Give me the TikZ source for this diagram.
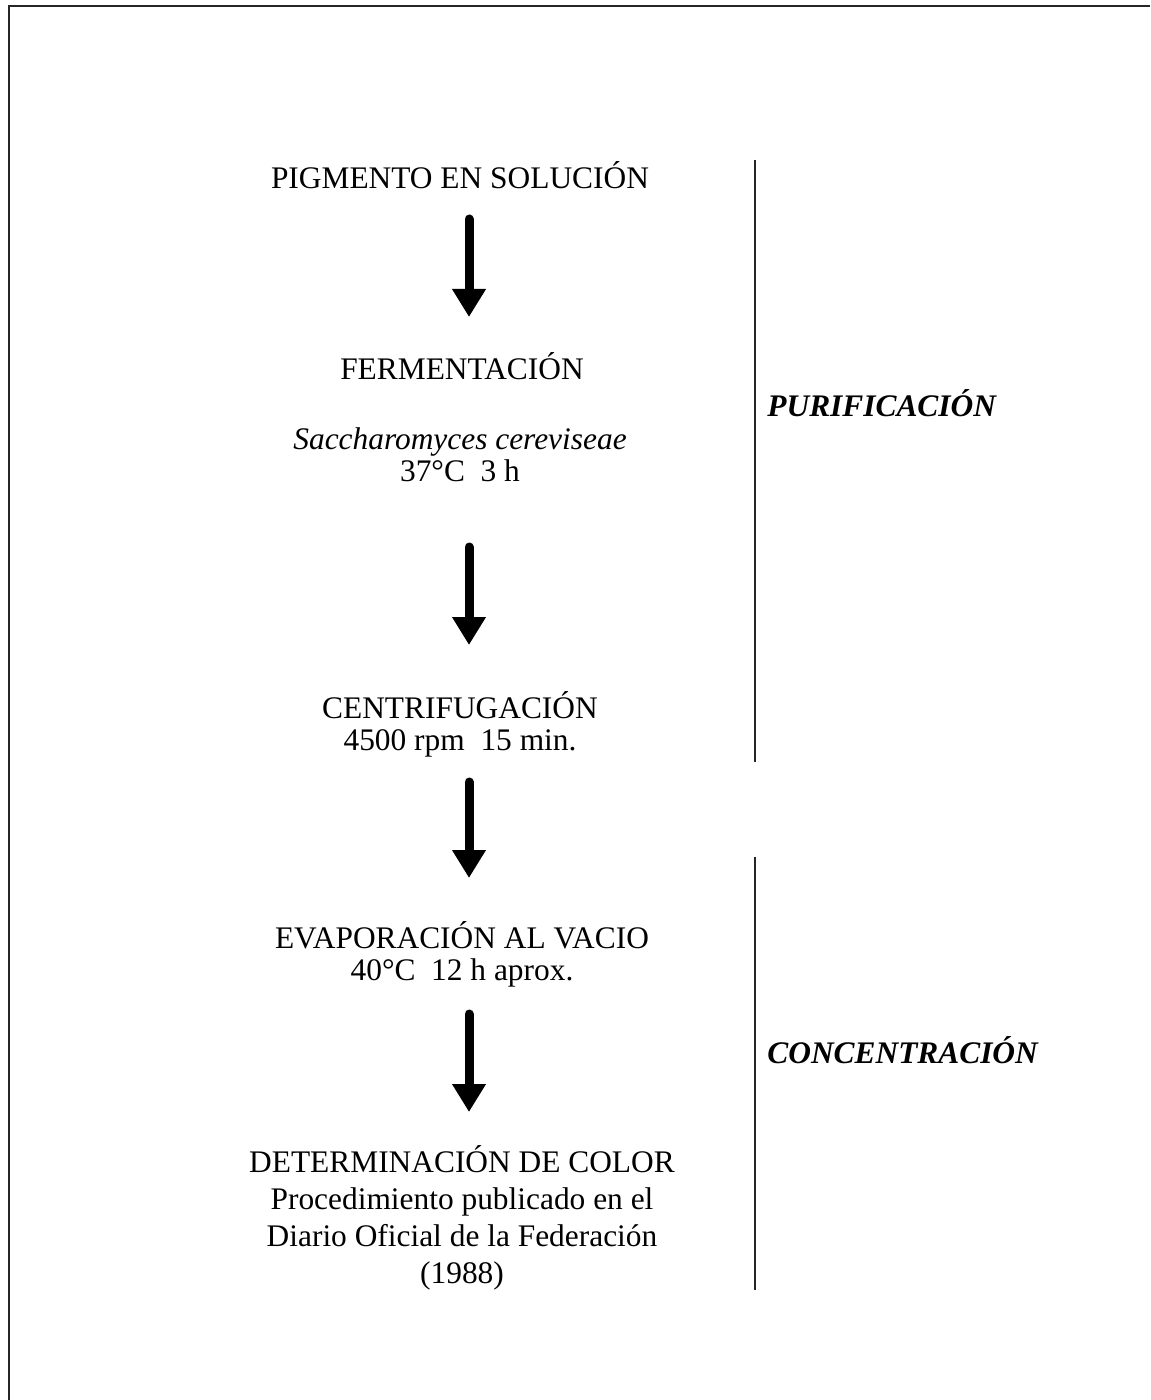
\documentclass[tikz,border=0pt]{standalone}
\usepackage{fontspec}
\setmainfont{Liberation Serif}
\usetikzlibrary{arrows.meta}
\begin{document}
\begin{tikzpicture}[x=0.5pt,y=-0.5pt,
  txt/.style={inner sep=0pt, align=center, font=\fontsize{15.7}{16}\selectfont},
  txtwide/.style={inner sep=0pt, align=center, font=\fontsize{15.7}{18.5}\selectfont},
  lbl/.style={inner sep=0pt, anchor=west, font=\fontsize{15.7}{16}\selectfont\bfseries\itshape},
  flow/.style={line width=4.5pt, line cap=round, -{Triangle[length=14pt,width=16pt]}},
  frame/.style={line width=1.3pt, draw=black!85},
  bar/.style={line width=1pt, draw=black!85}]
\useasboundingbox[fill=white] (0,0) rectangle (1150,1400);
% frame (top and left sides visible)
\draw[frame] (9,1400) -- (9,6) -- (1150,6);
% texts
\node[txt] (n1) at (460,175) {PIGMENTO EN SOLUCIÓN};
\node[txt] (n2) at (462,366) {FERMENTACIÓN};
\node[txt] (n2b) at (460,455) {\textit{Saccharomyces cereviseae}\\37°C\ \ 3 h};
\node[txt] (n3) at (460,724) {CENTRIFUGACIÓN\\4500 rpm\ \ 15 min.};
\node[txt] (n4) at (462,954) {EVAPORACIÓN AL VACIO\\40°C\ \ 12 h aprox.};
\node[txtwide] (n5) at (462,1218) {DETERMINACIÓN DE COLOR\\Procedimiento publicado en el\\Diario Oficial de la Federación\\(1988)};
\node[lbl] (p) at (767,403) {PURIFICACIÓN};
\node[lbl] (c) at (767,1050) {CONCENTRACIÓN};
% arrows
\coordinate (a1s) at (469,219); \coordinate (a1e) at (469,317);
\coordinate (a2s) at (469,547); \coordinate (a2e) at (469,645);
\coordinate (a3s) at (469,782); \coordinate (a3e) at (469,878);
\coordinate (a4s) at (469,1014); \coordinate (a4e) at (469,1112);
\draw[flow] (a1s) -- (a1e);
\draw[flow] (a2s) -- (a2e);
\draw[flow] (a3s) -- (a3e);
\draw[flow] (a4s) -- (a4e);
% side bars
\coordinate (b1s) at (755,160); \coordinate (b1e) at (755,762);
\coordinate (b2s) at (755,857); \coordinate (b2e) at (755,1290);
\draw[bar] (b1s) -- (b1e);
\draw[bar] (b2s) -- (b2e);
\end{tikzpicture}
\end{document}
